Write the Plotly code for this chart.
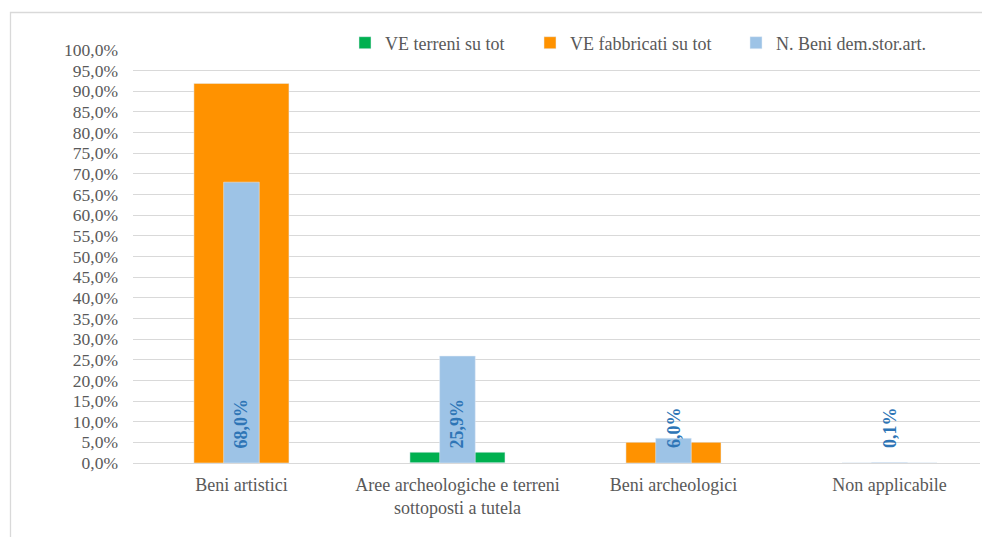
import plotly.graph_objects as go

# Categorie e serie (quote sul totale)
categorie = ["Beni artistici",
             "Aree archeologiche e terreni<br>sottoposti a tutela",
             "Beni archeologici",
             "Non applicabile"]
ve_terreni = [0.0, 0.026, 0.0, 0.0]
ve_fabbricati = [0.919, 0.0, 0.050, 0.0]
n_beni = [0.680, 0.259, 0.060, 0.001]

nomi_serie = ["VE terreni su tot", "VE fabbricati su tot", "N. Beni dem.stor.art."]

FONT = "Liberation Serif, Times New Roman, serif"
GRIGIO = "#595959"
GRIGLIA = "#d9d9d9"
BLU_ETICHETTE = "#2E75B6"

# Area del grafico in pixel (per convertire posizioni in coordinate paper)
L, R, T, B, W, H = 133, 2, 50, 74, 982, 537
PW, PH = W - L - R, H - T - B


def px_x(p):
    return (p - L) / PW


def px_y(p):
    return (H - B - p) / PH


x = list(range(len(categorie)))

fig = go.Figure()
fig.add_trace(go.Bar(x=x, y=ve_terreni, name=nomi_serie[0], marker_color="#00B050",
                     width=0.44, hoverinfo="y", legend="legend"))
fig.add_trace(go.Bar(x=x, y=ve_fabbricati, name=nomi_serie[1], marker_color="#FF9200",
                     width=0.44, hoverinfo="y", legend="legend2"))
fig.add_trace(go.Bar(x=x, y=n_beni, name=nomi_serie[2], marker_color="#9DC3E6",
                     width=0.165, hoverinfo="y", legend="legend3"))

# Etichette verticali dei valori della terza serie, alla base delle barre
for xi, v in zip(x, n_beni):
    testo = f"{v * 100:.1f}%".replace(".", ",")
    fig.add_annotation(x=xi, y=0, xref="x", yref="y", text=f"<b>{testo}</b>",
                       textangle=-90, showarrow=False, xanchor="center",
                       yanchor="bottom", yshift=13,
                       font=dict(family=FONT, size=18, color=BLU_ETICHETTE))

# Cornice dell'area del grafico
fig.add_shape(type="rect", xref="paper", yref="paper",
              x0=px_x(10.5), x1=1.3, y0=-0.5, y1=px_y(12.5),
              line=dict(color=GRIGLIA, width=1.3), fillcolor="rgba(0,0,0,0)",
              layer="below")
# Fondo bianco della zona legenda sopra la griglia
fig.add_shape(type="rect", xref="paper", yref="paper",
              x0=px_x(313), x1=px_x(945), y0=px_y(58), y1=px_y(30),
              line=dict(width=0), fillcolor="white", layer="above")

leg_font = dict(family=FONT, size=18, color=GRIGIO)
leg_common = dict(orientation="h", y=px_y(43), yanchor="middle",
                  bgcolor="rgba(0,0,0,0)", font=leg_font,
                  itemclick=False, itemdoubleclick=False, xanchor="left")

fig.update_layout(
    width=W, height=H,
    margin=dict(l=L, r=R, t=T, b=B),
    paper_bgcolor="white", plot_bgcolor="white",
    barmode="overlay",
    separators=",.",
    font=dict(family=FONT, color=GRIGIO, size=18),
    showlegend=True,
    legend=dict(x=px_x(345), **leg_common),
    legend2=dict(x=px_x(530), **leg_common),
    legend3=dict(x=px_x(736), **leg_common),
    xaxis=dict(tickmode="array", tickvals=x, ticktext=categorie,
               range=[-0.502, 3.419], showgrid=False, showline=True,
               linecolor=GRIGLIA, linewidth=1.3, ticks="", ticklabelstandoff=5,
               tickfont=dict(family=FONT, size=18, color=GRIGIO), fixedrange=True),
    yaxis=dict(range=[0, 1], dtick=0.05, tickformat=".1%", showgrid=True,
               gridcolor=GRIGLIA, gridwidth=1.3, zeroline=False, showline=False,
               ticks="", ticklabelstandoff=14,
               tickfont=dict(family=FONT, size=17.5, color=GRIGIO), fixedrange=True),
)

fig.write_html("out.html", config={"displayModeBar": False})
